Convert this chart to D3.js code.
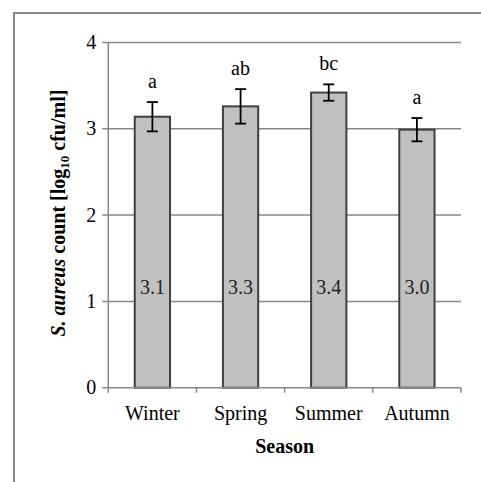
<!DOCTYPE html>
<html>
<head>
<meta charset="utf-8">
<script src="https://cdn.jsdelivr.net/npm/d3@7"></script>
<style>
  html, body { margin: 0; padding: 0; background: #fff; }
  svg text { font-family: "Liberation Serif", "Times New Roman", serif; }
</style>
</head>
<body>
<svg id="chart" width="481" height="482"></svg>
<script>
// Seasonal S. aureus counts (log10 cfu/ml)
const seasons = ["Winter", "Spring", "Summer", "Autumn"];
const means = [3.14, 3.26, 3.42, 2.99];
const errors = [0.17, 0.20, 0.095, 0.135];
const valueLabels = ["3.1", "3.3", "3.4", "3.0"];
const groupLetters = ["a", "ab", "bc", "a"];
const yTicks = [0, 1, 2, 3, 4];

const FONT = "Liberation Serif, Times New Roman, serif";
const FS = 20;

const svg = d3.select("#chart");
const margin = { left: 108.3, right: 20, top: 42.5, bottom: 94.3 };
const W = 481, H = 482;
const plotW = W - margin.left - margin.right;
const plotH = H - margin.top - margin.bottom;

// Outer chart frame (only top and left edges fall inside the view)
svg.append("rect")
  .attr("x", 14).attr("y", 13)
  .attr("width", 600).attr("height", 600)
  .attr("fill", "none").attr("stroke", "#8a8a8a").attr("stroke-width", 2);

const g = svg.append("g").attr("transform", `translate(${margin.left},${margin.top})`)
  .attr("font-family", FONT);

const x = d3.scaleBand().domain(seasons).range([0, plotW]).paddingInner(0.6).paddingOuter(0.3);
const xOuter = d3.scaleBand().domain(seasons).range([0, plotW]);
const y = d3.scaleLinear().domain([0, 4]).range([plotH, 0]);

// Horizontal gridlines with outward tick marks
g.append("g").selectAll("line").data(yTicks.filter(d => d > 0)).join("line")
  .attr("x1", -6).attr("x2", plotW)
  .attr("y1", d => y(d)).attr("y2", d => y(d))
  .attr("stroke", "#878787").attr("stroke-width", 1.5);

// Y axis line
g.append("line").attr("x1", 0).attr("x2", 0).attr("y1", 0).attr("y2", plotH)
  .attr("stroke", "#878787").attr("stroke-width", 1.5);

// Y tick labels
g.append("g").selectAll("text").data(yTicks).join("text")
  .attr("x", -12).attr("y", d => y(d)).attr("dy", "0.33em")
  .attr("text-anchor", "end").attr("font-size", FS).attr("fill", "#000")
  .attr("font-family", FONT)
  .text(d => d);

// Bars
g.append("g").selectAll("rect").data(seasons).join("rect")
  .attr("x", d => x(d)).attr("width", x.bandwidth())
  .attr("y", (d, i) => y(means[i])).attr("height", (d, i) => plotH - y(means[i]))
  .attr("fill", "#c0c0c0").attr("stroke", "#404040").attr("stroke-width", 2);

// X axis line and category separators
g.append("line").attr("x1", -6).attr("x2", plotW).attr("y1", plotH).attr("y2", plotH)
  .attr("stroke", "#878787").attr("stroke-width", 1.5);
const sepPos = seasons.map(s => xOuter(s)).concat([plotW]);
g.append("g").selectAll("line").data(sepPos).join("line")
  .attr("x1", d => d).attr("x2", d => d)
  .attr("y1", plotH).attr("y2", plotH + 5)
  .attr("stroke", "#878787").attr("stroke-width", 1.5);

// Error bars
const eb = g.append("g").attr("stroke", "#000").attr("stroke-width", 1.8);
seasons.forEach((s, i) => {
  const cx = x(s) + x.bandwidth() / 2;
  const top = y(means[i] + errors[i]);
  const bot = y(means[i] - errors[i]);
  eb.append("line").attr("x1", cx).attr("x2", cx).attr("y1", top).attr("y2", bot);
  eb.append("line").attr("x1", cx - 5.5).attr("x2", cx + 5.5).attr("y1", top).attr("y2", top);
  eb.append("line").attr("x1", cx - 5.5).attr("x2", cx + 5.5).attr("y1", bot).attr("y2", bot);
});

// Significance letters above error bars
g.append("g").selectAll("text").data(seasons).join("text")
  .attr("x", d => x(d) + x.bandwidth() / 2)
  .attr("y", (d, i) => y(means[i] + errors[i]) - 14)
  .attr("text-anchor", "middle").attr("font-size", FS).attr("fill", "#000")
  .attr("font-family", FONT)
  .text((d, i) => groupLetters[i]);

// Value labels inside bars
g.append("g").selectAll("text").data(seasons).join("text")
  .attr("x", d => x(d) + x.bandwidth() / 2)
  .attr("y", y(1) - 14).attr("dy", "0.33em")
  .attr("text-anchor", "middle").attr("font-size", FS).attr("fill", "#222")
  .attr("font-family", FONT)
  .text((d, i) => valueLabels[i]);

// X category labels
g.append("g").selectAll("text").data(seasons).join("text")
  .attr("x", d => xOuter(d) + xOuter.bandwidth() / 2)
  .attr("y", plotH + 32)
  .attr("text-anchor", "middle").attr("font-size", FS).attr("fill", "#000")
  .attr("font-family", FONT)
  .text(d => d);

// X axis title
g.append("text")
  .attr("x", plotW / 2).attr("y", plotH + 65)
  .attr("text-anchor", "middle").attr("font-size", FS).attr("font-weight", "bold")
  .attr("font-family", FONT)
  .text("Season");

// Y axis title with italic species name and subscript
const yt = svg.append("text")
  .attr("transform", `translate(65, ${margin.top + plotH / 2 - 2}) rotate(-90)`)
  .attr("text-anchor", "middle").attr("font-size", FS).attr("font-weight", "bold")
  .attr("font-family", FONT);
yt.append("tspan").attr("font-style", "italic").text("S. aureus");
yt.append("tspan").text(" count [log");
yt.append("tspan").attr("font-size", 13).attr("dy", 4).text("10");
yt.append("tspan").attr("dy", -4).text(" cfu/ml]");
</script>
</body>
</html>
